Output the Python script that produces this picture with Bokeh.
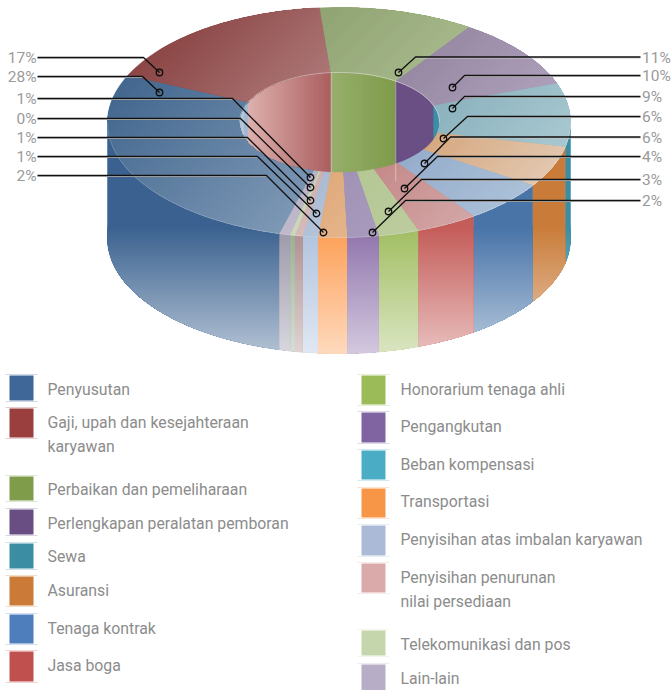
import numpy as np
from bokeh.plotting import figure
from bokeh.models import ColumnDataSource
from bokeh.core.properties import value
from bokeh.embed import file_html
from bokeh.resources import INLINE

# ---- data ----
categories = ["Penyusutan", "Gaji, upah dan kesejahteraan karyawan", "Perbaikan dan pemeliharaan",
              "Perlengkapan peralatan pemboran", "Sewa", "Asuransi", "Tenaga kontrak", "Jasa boga",
              "Honorarium tenaga ahli", "Pengangkutan", "Beban kompensasi", "Transportasi",
              "Penyisihan atas imbalan karyawan", "Penyisihan penurunan nilai persediaan",
              "Telekomunikasi dan pos", "Lain-lain"]
shares = [27.6, 16.9, 10.8, 10.0, 8.9, 5.8, 5.9, 4.3, 2.8, 2.2, 0.0, 2.0, 1.05, 0.55, 0.33, 0.7]
left_labels = ["17%", "28%", "1%", "0%", "1%", "1%", "2%"]
right_labels = ["11%", "10%", "9%", "6%", "6%", "4%", "3%", "2%"]

# ---- styles ----
legend_colors = ["#3F6797", "#9B3F3E", "#7F9C4B", "#684E83", "#3A8DA3", "#CB7A37", "#4E7EBB", "#C0504D",
                 "#9BBB59", "#8064A2", "#4BACC6", "#F79646", "#AABAD7", "#D9AAA9", "#C6D6AC", "#B7ADC7"]
wall_colors = ["#3A618F", "#9B3F3E", "#7F9C4B", "#684E83", "#3A8DA3", "#C97C3A", "#4874A8", "#C45C59",
               "#A0BD60", "#8E72AB", "#4BACC6", "#FD9E54", "#AFC2DE", "#AE8E8F", "#98AD90", "#9B97A9"]
top_a = ["#43678F", "#8C4646", "#90A372", "#9789A4", "#8BB2BE", "#D6A981", "#95ADCC", "#C58A8A",
         "#B5C795", "#A193B6", "#4BACC6", "#E0AA7C", "#ABBBD3", "#D0B0B0", "#C5D4B0", "#BAB2C6"]
top_b = ["#7D98B5", "#AC7676", "#A5B789", "#AD9FBA", "#A8C8D0", "#E2C6AE", "#ABC0D8", "#D3A5A5",
         "#BCCC9E", "#A89ABC", "#4BACC6", "#E4B48A", "#B3C3D9", "#D6BBBB", "#CBD9B9", "#C0B9CB"]
inner_a = ["#B5C6DA", "#DCAEAC", "#96AE6B", "#6A4F85", "#3A8EA5", "#CB7A37", "#4E7EBB", "#C0504D",
           "#9BBB59", "#8064A2", "#4BACC6", "#F79646", "#AABAD7", "#D9AAA9", "#C6D6AC", "#B7ADC7"]
inner_b = ["#A3B8D2", "#AB5F5F", "#7F9C4B", "#6A4F85", "#3A8EA5", "#CB7A37", "#4E7EBB", "#C0504D",
           "#9BBB59", "#8064A2", "#4BACC6", "#F79646", "#AABAD7", "#D9AAA9", "#C6D6AC", "#B7ADC7"]

START = 194.8
CX, CY, RX, RY, DEPTH = 338.5, 122.0, 231.5, 115.0, 116.0
ICX, IRX, IRY = 339.0, 100.0, 50.0


def rgb(h):
    return np.array([int(h[i:i + 2], 16) for i in (1, 3, 5)], float)


def mix(a, b, t):
    c = rgb(a) * (1 - t) + rgb(b) * t
    return "#%02x%02x%02x" % tuple(int(round(v)) for v in c)


def clip(poly, a, b, c):
    """Keep the part of poly where a*x + b*y >= c."""
    out = []
    n = len(poly)
    for i in range(n):
        p, q = poly[i], poly[(i + 1) % n]
        dp = a * p[0] + b * p[1] - c
        dq = a * q[0] + b * q[1] - c
        if dp >= 0:
            out.append(p)
        if (dp >= 0) != (dq >= 0):
            t = dp / (dp - dq)
            out.append((p[0] + t * (q[0] - p[0]), p[1] + t * (q[1] - p[1])))
    return out


def outer(t):
    r = np.radians(t)
    return CX + RX * np.sin(r), CY - RY * np.cos(r)


def inner(t):
    r = np.radians(t)
    return ICX + IRX * np.sin(r), CY - IRY * np.cos(r)


def arc(a, b):
    return np.linspace(a, b, max(2, int(abs(b - a)) + 2))


total = sum(shares)
edges = START + 360.0 * np.concatenate([[0], np.cumsum(shares)]) / total

xs, ys, cols, stroke = [], [], [], []


def add(poly, col, base=False):
    if len(poly) >= 3:
        xs.append([p[0] for p in poly])
        ys.append([p[1] for p in poly])
        cols.append(col)
        stroke.append(0.6 if base else 0.0)


def wall_shade(col, y):
    return mix(col, "#ffffff", float(np.clip((y - 225) / 128.0, 0, 1)) * 0.62)


# inner wall (far half only)
for i in range(len(shares)):
    for k in (0, 1, 2):
        a = edges[i] - 360 * k
        b = edges[i + 1] - 360 * k
        a, b = max(a, -90), min(b, 90)
        if b <= a:
            continue
        top = [inner(t) for t in arc(a, b)]
        poly = top + [(x, y + DEPTH) for x, y in reversed(top)]
        x0, x1 = min(q[0] for q in top), max(q[0] for q in top)
        n = max(1, int((x1 - x0) / 3))
        for j in range(n):
            X = x0 + (x1 - x0) * j / n
            add(clip(poly, 1, 0, X), mix(inner_a[i], inner_b[i], j / max(1, n - 1)), j == 0)

# outer wall (front half only)
for i, col in enumerate(wall_colors):
    for k in (0, 1):
        a = max(edges[i] - 360 * k, 90)
        b = min(edges[i + 1] - 360 * k, 270)
        if b <= a:
            continue
        top = [outer(t) for t in arc(a, b)]
        poly = top + [(x, y + DEPTH) for x, y in reversed(top)]
        add(poly, wall_shade(col, 0), True)
        for y in np.arange(225, 356, 3.0):
            add(clip(poly, 0, 1, y), wall_shade(col, y))

# top surface
for i in range(len(shares)):
    if shares[i] <= 0:
        continue
    ts = arc(edges[i], edges[i + 1])
    poly = [outer(t) for t in ts] + [inner(t) for t in ts[::-1]]
    s = [q[0] + q[1] for q in poly]
    s0, s1 = min(s), max(s)
    n = max(1, int((s1 - s0) / 6))
    for j in range(n):
        S = s0 + (s1 - s0) * j / n
        add(clip(poly, 1, 1, S), mix(top_a[i], top_b[i], j / max(1, n - 1)), j == 0)

# ---- figure ----
p = figure(width=671, height=690, x_range=(0, 671), y_range=(690, 0), min_border=0,
           toolbar_location=None, output_backend="svg")
p.axis.visible = False
p.grid.visible = False
p.outline_line_color = None
p.background_fill_color = None
p.border_fill_color = None

p.patches(xs="xs", ys="ys", fill_color="c", line_color="c", line_alpha="a", line_width=0.5,
          source=ColumnDataSource(dict(xs=xs, ys=ys, c=cols, a=[1.0 if v else 0.0 for v in stroke])))

# thin highlights along the rims
front = [outer(t) for t in arc(90, 270)]
p.line([q[0] for q in front], [q[1] for q in front], line_color="#ffffff", line_alpha=0.2, line_width=1)
back = [inner(t) for t in arc(-90, 90)]
p.line([q[0] for q in back], [q[1] for q in back], line_color="#ffffff", line_alpha=0.4, line_width=1)
for e in (edges[2], edges[3]):
    q = inner(e)
    p.line([q[0], q[0]], [q[1], q[1] + 100], line_color="#ffffff", line_alpha=0.4, line_width=1)

# leader lines: label y, elbow x, dot x, dot y
left_leaders = [(57, 143, 159, 72), (76, 142, 159, 92), (98, 232, 310, 177), (118, 240, 310, 187),
                (137, 247, 310, 200), (156, 257, 316, 213), (175, 266, 323, 232)]
right_leaders = [(56.5, 415, 398, 72), (75, 464, 452, 87), (96, 464, 452, 108), (116, 467, 443, 138),
                 (136.5, 450, 424, 163), (156, 437, 404, 188), (179, 421, 388, 211), (200, 405, 372, 232)]
FONT = value("Roboto")
for (ly, ex, dx, dy), lab in zip(left_leaders, left_labels):
    p.line([37, ex], [ly + 1, ly + 1], line_color="#c8c8c8", line_width=1)
    p.line([37, ex, dx], [ly, ly, dy], line_color="#101010", line_width=1.3)
    p.scatter([dx], [dy], marker="circle", size=6.5, fill_color=None, line_color="#101010", line_width=1.3)
    p.text([36], [ly + 0.5], text=[lab], text_align="right", text_baseline="middle", text_font=FONT,
           text_font_size="15.5px", text_color="#9a9a9a")
for (ly, ex, dx, dy), lab in zip(right_leaders, right_labels):
    p.line([ex, 640], [ly + 1, ly + 1], line_color="#c8c8c8", line_width=1)
    p.line([640, ex, dx], [ly, ly, dy], line_color="#101010", line_width=1.3)
    p.scatter([dx], [dy], marker="circle", size=6.5, fill_color=None, line_color="#101010", line_width=1.3)
    p.text([641.5], [ly + 0.5], text=[lab], text_align="left", text_baseline="middle", text_font=FONT,
           text_font_size="15.5px", text_color="#9a9a9a")

# legend: swatch top, swatch bottom, text lines with their centre y
left_col = [(375, 400, ["Penyusutan"], [389]),
            (408, 437, ["Gaji, upah dan kesejahteraan", "karyawan"], [422, 446]),
            (476, 500, ["Perbaikan dan pemeliharaan"], [489]),
            (509, 534, ["Perlengkapan peralatan pemboran"], [523]),
            (543, 568, ["Sewa"], [556]),
            (576, 605, ["Asuransi"], [590]),
            (614, 643, ["Tenaga kontrak"], [628]),
            (651, 681, ["Jasa boga"], [665])]
right_col = [(375, 404, ["Honorarium tenaga ahli"], [389]),
             (412, 442, ["Pengangkutan"], [426]),
             (450, 479, ["Beban kompensasi"], [464]),
             (488, 517, ["Transportasi"], [501]),
             (525, 555, ["Penyisihan atas imbalan karyawan"], [539]),
             (563, 592, ["Penyisihan penurunan", "nilai persediaan"], [577, 601]),
             (630, 655, ["Telekomunikasi dan pos"], [644]),
             (664, 690, ["Lain-lain"], [678])]
for rows, x0, x1, tx, offset in ((left_col, 9, 33, 47, 0), (right_col, 361, 385, 400, 8)):
    for n, (t, b, lines, ty) in enumerate(rows):
        c = legend_colors[n + offset]
        p.quad(left=[x0], right=[x1], top=[t], bottom=[b], fill_color=c, line_color=None)
        for yy in (t - 1, b + 1):
            p.line([x0 - 4, x1 + 4], [yy, yy], line_color=mix(c, "#ffffff", 0.75), line_width=1)
        p.text([tx] * len(lines), ty, text=lines, text_baseline="middle", text_font=FONT,
               text_font_size="15.8px", text_color="#8c8c8c")

open("out.html", "w").write(file_html(p, INLINE))
